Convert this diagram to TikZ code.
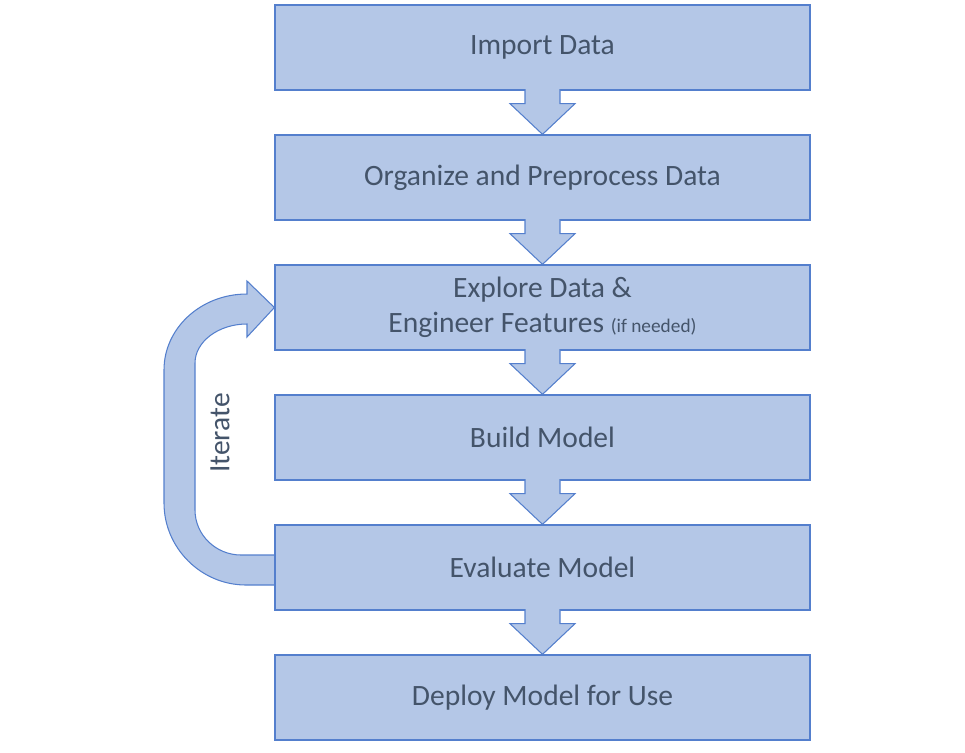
\documentclass[tikz,border=0pt]{standalone}
\usepackage{fontspec}
\setmainfont{Carlito}
\usetikzlibrary{calc,backgrounds}
\definecolor{boxfill}{RGB}{180,199,231}
\definecolor{boxline}{RGB}{84,127,205}
\definecolor{textgray}{RGB}{68,84,106}
\tikzset{
  stepbox/.style={draw=boxline, fill=boxfill, line width=0.75pt,
    minimum width=10.7cm, minimum height=1.7cm, inner sep=0pt,
    align=center, text=textgray, font=\fontsize{16.8}{20}\selectfont},
  blockarrow/.style={draw=boxline, fill=boxfill, line width=0.6pt, line join=miter}
}
\begin{document}
\begin{tikzpicture}[x=0.02cm, y=-0.02cm]
      \useasboundingbox (0,0) rectangle (965,752);
      \node[stepbox] (import) at (542.5,47.5) {Import Data};
      \node[stepbox] (organize) at (542.5,177.5) {Organize and Preprocess Data};
      \node[stepbox] (explore) at (542.5,307.5) {Explore Data \&\\Engineer Features {\fontsize{11}{20}\selectfont (if needed)}};
      \node[stepbox] (build) at (542.5,437.5) {Build Model};
      \node[stepbox] (evaluate) at (542.5,567.5) {Evaluate Model};
      \node[stepbox] (deploy) at (542.5,697.5) {Deploy Model for Use};
      \foreach \a/\b in {import/organize, organize/explore, explore/build,
                         build/evaluate, evaluate/deploy}
        \path[blockarrow] ($(\a.south)+(-17.5,-1.5)$) -- ($(\a.south)+(-17.5,13)$)
          -- ($(\a.south)+(-32.5,13)$) -- (\b.north) -- ($(\a.south)+(32.5,13)$)
          -- ($(\a.south)+(17.5,13)$) -- ($(\a.south)+(17.5,-1.5)$);
      \begin{scope}[on background layer]
        \path[blockarrow] ($(evaluate.west)+(0,17.5)$) -- (246,585)
          .. controls (201,585) and (164,548) .. (164,503) -- (164,370)
          .. controls (164,328) and (201,294) .. (247,294) -- (247,281)
          -- (explore.west) -- (247,337) -- (247,324)
          .. controls (218,324) and (195,342) .. (195,363) -- (195,510)
          .. controls (195,535) and (216,555) .. (241,555)
          -- ($(evaluate.west)+(0,-12.5)$);
      \end{scope}
      \node[rotate=90, text=textgray, font=\fontsize{16.8}{20}\selectfont] (iterate) at (220,433) {Iterate};
    \end{tikzpicture}
\end{document}
